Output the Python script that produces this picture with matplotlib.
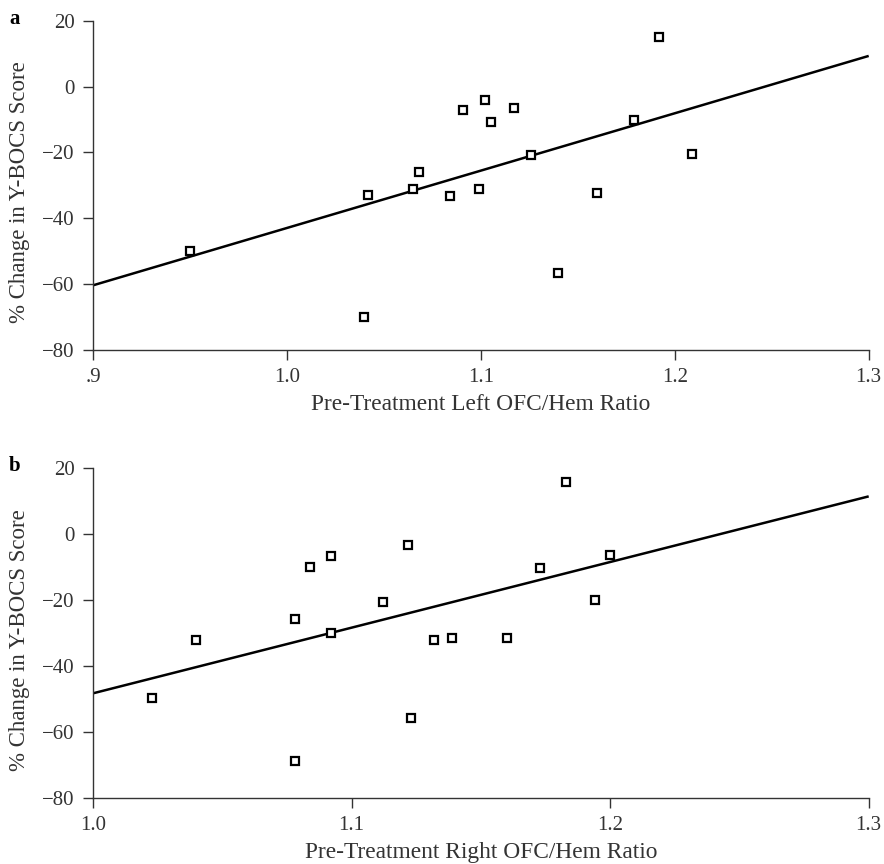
import numpy as np
import matplotlib
matplotlib.use('Agg')
import matplotlib.pyplot as plt

# Panel a: left OFC/Hem ratio vs % change in Y-BOCS
left_ratio = [0.950, 1.040, 1.042, 1.065, 1.068, 1.084, 1.091, 1.099, 1.102,
              1.105, 1.117, 1.126, 1.140, 1.160, 1.179, 1.192, 1.209]
left_change = [-49.8, -70.0, -32.9, -31.0, -26.0, -33.3, -7.2, -31.2, -4.2,
               -10.6, -6.6, -20.8, -56.6, -32.3, -10.2, 15.1, -20.4]
left_fit_x = [0.9, 1.3]
left_fit_y = [-60.3, 9.3]

# Panel b: right OFC/Hem ratio vs % change in Y-BOCS
right_ratio = [1.023, 1.040, 1.078, 1.078, 1.084, 1.092, 1.092, 1.112, 1.122,
               1.123, 1.132, 1.139, 1.160, 1.173, 1.183, 1.194, 1.200]
right_change = [-49.6, -32.0, -25.8, -68.9, -10.0, -6.7, -30.1, -20.7, -3.4,
                -55.8, -32.1, -31.4, -31.4, -10.1, 15.9, -20.1, -6.2]
right_fit_x = [1.0, 1.3]
right_fit_y = [-48.3, 11.5]

y_ticks = [20, 0, -20, -40, -60, -80]
y_labels = ['20', '0', '\u221220', '\u221240', '\u221260', '\u221280']

plt.rcParams['font.family'] = ['Liberation Serif', 'DejaVu Serif']
plt.rcParams['font.size'] = 15

fig = plt.figure(figsize=(8.84, 8.64), dpi=100)
ax_a = fig.add_axes([0.1052, 0.5946, 0.8775, 0.3815])
ax_b = fig.add_axes([0.1052, 0.0767, 0.8775, 0.3812])


def draw_panel(ax, x, y, fit_x, fit_y, xlim, xticks, xticklabels, xlabel):
    ax.plot(fit_x, fit_y, color='black', lw=1.8, solid_capstyle='butt', zorder=2)
    ax.plot(x, y, ls='none', marker='s', ms=5.8, mfc='white', mec='black',
            mew=1.6, zorder=3, clip_on=False)
    ax.set_xlim(*xlim)
    ax.set_ylim(-80, 20)
    ax.set_xticks(xticks)
    ax.set_xticklabels(xticklabels)
    ax.set_yticks(y_ticks)
    ax.set_yticklabels(y_labels)
    for side in ['top', 'right']:
        ax.spines[side].set_visible(False)
    for side in ['left', 'bottom']:
        ax.spines[side].set_linewidth(1.0)
        ax.spines[side].set_color('#333333')
    ax.tick_params(direction='out', length=7, width=1.0, color='#333333',
                   labelcolor='#333333', labelsize=15, pad=6)
    ax.set_xlabel(xlabel, fontsize=16.8, color='#333333', labelpad=5)
    ax.set_ylabel('% Change in Y-BOCS Score', fontsize=16.5, color='#333333',
                  labelpad=5)
    ax.yaxis.set_label_coords(-0.081, 0.48)


draw_panel(ax_a, left_ratio, left_change, left_fit_x, left_fit_y,
           (0.9, 1.3), [0.9, 1.0, 1.1, 1.2, 1.3],
           ['.9', '1.0', '1.1', '1.2', '1.3'],
           'Pre-Treatment Left OFC/Hem Ratio')
draw_panel(ax_b, right_ratio, right_change, right_fit_x, right_fit_y,
           (1.0, 1.3), [1.0, 1.1, 1.2, 1.3],
           ['1.0', '1.1', '1.2', '1.3'],
           'Pre-Treatment Right OFC/Hem Ratio')

fig.text(15 / 884, 1 - 19 / 864, 'a', fontsize=15, fontweight='bold',
         ha='center', va='center')
fig.text(15 / 884, 1 - 466 / 864, 'b', fontsize=15, fontweight='bold',
         ha='center', va='center')

fig.savefig('out.png', dpi=100)
